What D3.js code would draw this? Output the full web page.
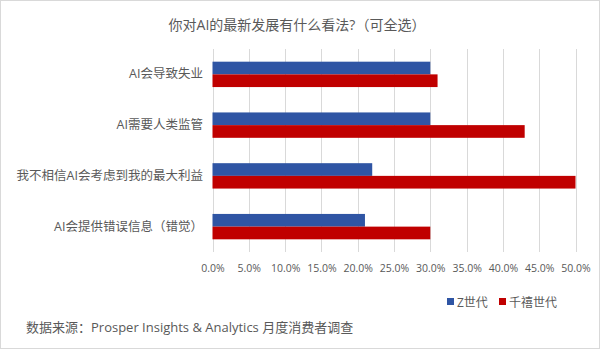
<!DOCTYPE html>
<html><head><meta charset="utf-8">
<script src="https://cdn.jsdelivr.net/npm/d3@7"></script>
<style>body{margin:0;background:#fff}svg{display:block}text{font-family:"Open Sans","Noto Sans CJK SC",sans-serif;fill:#595959}</style>
</head><body><svg id="c" width="600" height="350"></svg>
<script>
const title = "你对AI的最新发展有什么看法?（可全选）";
const categories = ["AI会导致失业","AI需要人类监管","我不相信AI会考虑到我的最大利益","AI会提供错误信息（错觉）"];
const seriesNames = ["Z世代","千禧世代"];
const genZ = [30,30,22,21];
const millennials = [31,43,50,30];
const ticks = [0,5,10,15,20,25,30,35,40,45,50];
const source = "数据来源：Prosper Insights & Analytics 月度消费者调查";
const colors = ["#2F55A4","#C00000"];

const svg = d3.select("#c");
svg.append("rect").attr("x",0.5).attr("y",0.5).attr("width",599).attr("height",348).attr("fill","#fff").attr("stroke","#d9d9d9");

const x = d3.scaleLinear().domain([0,50]).range([212.5,575.5]);
const y = d3.scaleBand().domain(categories).range([49,252]).paddingInner(0.5).paddingOuter(0.25);
const sub = d3.scaleBand().domain(seriesNames).range([0,y.bandwidth()]);

svg.append("text").attr("x",297).attr("y",24).attr("text-anchor","middle").attr("dominant-baseline","central")
  .style("font-size","14px").text(title);

const grid = svg.append("g");
grid.selectAll("line").data(ticks).join("line")
  .attr("x1",d=>Math.round(x(d))+0.5).attr("x2",d=>Math.round(x(d))+0.5)
  .attr("y1",49).attr("y2",252).attr("stroke","#d9d9d9").attr("stroke-width",1);

const data = [genZ, millennials];
data.forEach((vals,si)=>{
  svg.append("g").selectAll("rect").data(categories).join("rect")
    .attr("x",x(0)).attr("y",c=>y(c)+sub(seriesNames[si]))
    .attr("width",(c,i)=>x(vals[i])-x(0)).attr("height",sub.bandwidth())
    .attr("fill",colors[si]);
});

const xAxis = d3.axisBottom(x).tickValues(ticks).tickFormat(d=>d.toFixed(1)+"%").tickSize(0).tickPadding(0);
const gx = svg.append("g").attr("transform","translate(0,268)").call(xAxis);
gx.select(".domain").remove();
gx.selectAll("text").attr("dy","0.35em").attr("y",0).style("font-size","10.5px").style("fill","#595959").style("font-family",'"Open Sans","Noto Sans CJK SC",sans-serif');

const yAxis = d3.axisLeft(y).tickSize(0).tickPadding(0);
const gy = svg.append("g").attr("transform","translate(203,0)").call(yAxis);
gy.select(".domain").remove();
gy.selectAll("text").style("font-size","12.5px").style("fill","#595959").style("font-family",'"Open Sans","Noto Sans CJK SC",sans-serif');

const leg = svg.append("g");
const legX = [447,499];
seriesNames.forEach((n,i)=>{
  leg.append("rect").attr("x",legX[i]).attr("y",298).attr("width",7).attr("height",7).attr("fill",colors[i]);
  leg.append("text").attr("x",legX[i]+10).attr("y",302).attr("dominant-baseline","central").style("font-size","12px").text(n);
});

svg.append("text").attr("x",26).attr("y",327).attr("dominant-baseline","central").style("font-size","13px").text(source);
</script></body></html>
